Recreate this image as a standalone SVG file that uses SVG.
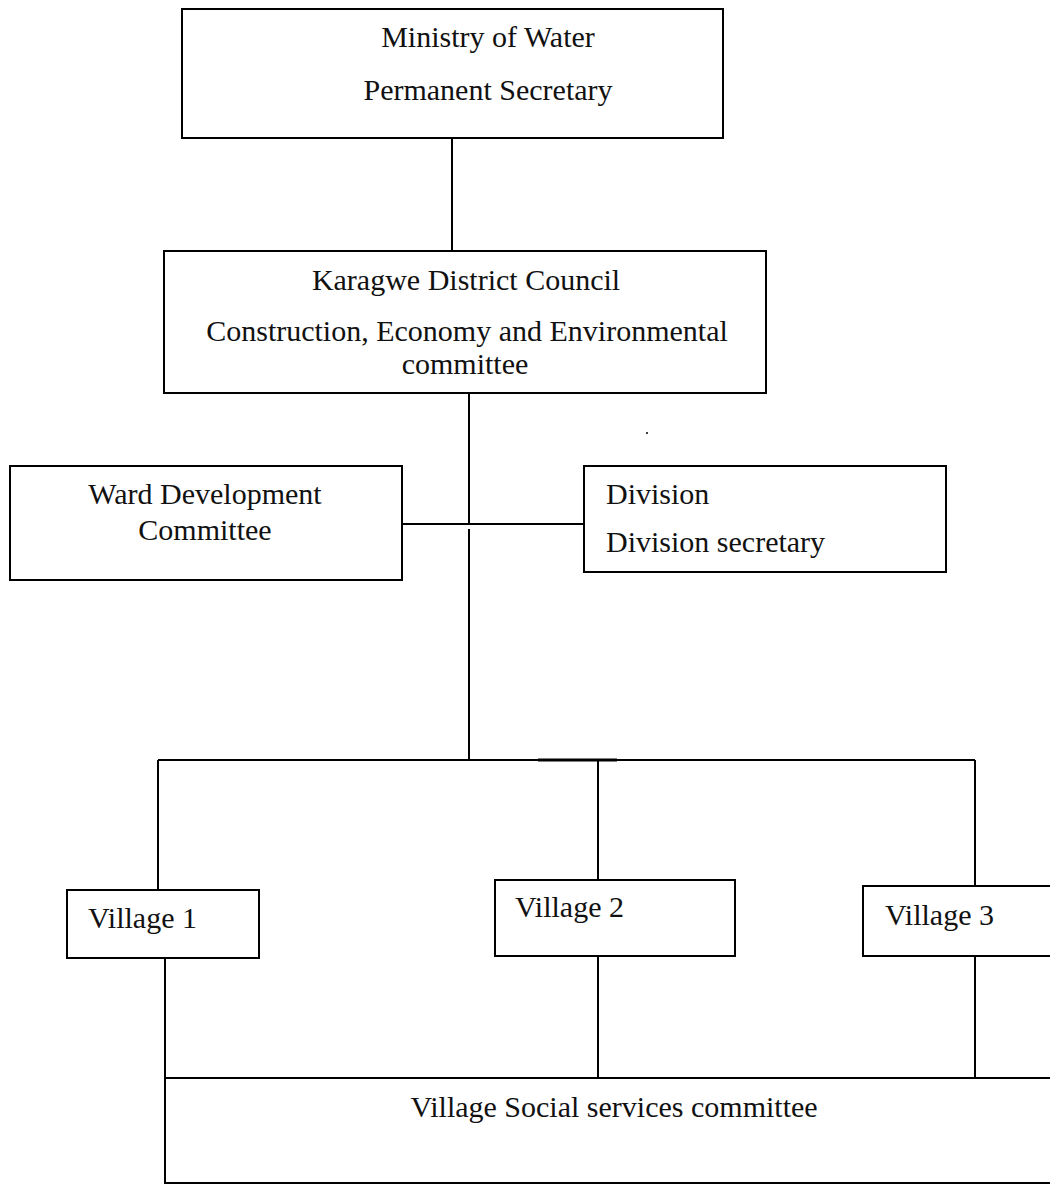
<svg xmlns="http://www.w3.org/2000/svg" width="1050" height="1184" viewBox="0 0 1050 1184">
<style>
.box{fill:#fff;stroke:#000;stroke-width:2}
.ln{stroke:#000;stroke-width:2;fill:none}
.t{font-family:"Liberation Serif","Times New Roman",serif;font-size:30px;fill:#111}
.c{text-anchor:middle}
</style>
<rect width="1050" height="1184" fill="#fff"/>
<g id="connectors">
<line class="ln" x1="452" y1="138" x2="452" y2="251"/>
<line class="ln" x1="469" y1="393" x2="469" y2="524"/>
<line class="ln" x1="402" y1="524" x2="584" y2="524"/>
<line class="ln" x1="469" y1="529" x2="469" y2="760"/>
<line class="ln" x1="158" y1="760" x2="975" y2="760"/>
<line class="ln" x1="538" y1="760" x2="617" y2="760" style="stroke-width:3"/>
<line class="ln" x1="158" y1="760" x2="158" y2="890"/>
<line class="ln" x1="598" y1="760" x2="598" y2="880"/>
<line class="ln" x1="975" y1="760" x2="975" y2="886"/>
<line class="ln" x1="165" y1="958" x2="165" y2="1078"/>
<line class="ln" x1="598" y1="956" x2="598" y2="1078"/>
<line class="ln" x1="975" y1="956" x2="975" y2="1078"/>
<circle cx="647" cy="433" r="1" fill="#000"/>
</g>
<g id="ministry">
<rect class="box" x="182" y="9" width="541" height="129"/>
<text class="t c" x="488" y="47">Ministry of Water</text>
<text class="t c" x="488" y="100">Permanent Secretary</text>
</g>
<g id="karagwe">
<rect class="box" x="164" y="251" width="602" height="142"/>
<text class="t c" x="466" y="290">Karagwe District Council</text>
<text class="t c" x="467" y="341">Construction, Economy and Environmental</text>
<text class="t c" x="465" y="374">committee</text>
</g>
<g id="ward">
<rect class="box" x="10" y="466" width="392" height="114"/>
<text class="t c" x="205" y="504">Ward Development</text>
<text class="t c" x="205" y="540">Committee</text>
</g>
<g id="division">
<rect class="box" x="584" y="466" width="362" height="106"/>
<text class="t" x="606" y="504">Division</text>
<text class="t" x="606" y="552">Division secretary</text>
</g>
<g id="village1">
<rect class="box" x="67" y="890" width="192" height="68"/>
<text class="t" x="88" y="928">Village 1</text>
</g>
<g id="village2">
<rect class="box" x="495" y="880" width="240" height="76"/>
<text class="t" x="515" y="917">Village 2</text>
</g>
<g id="village3">
<rect class="box" x="863" y="886" width="200" height="70"/>
<text class="t" x="885" y="925">Village 3</text>
</g>
<g id="vssc">
<rect class="box" x="165" y="1078" width="900" height="105"/>
<text class="t c" x="614" y="1117">Village Social services committee</text>
</g>
</svg>
